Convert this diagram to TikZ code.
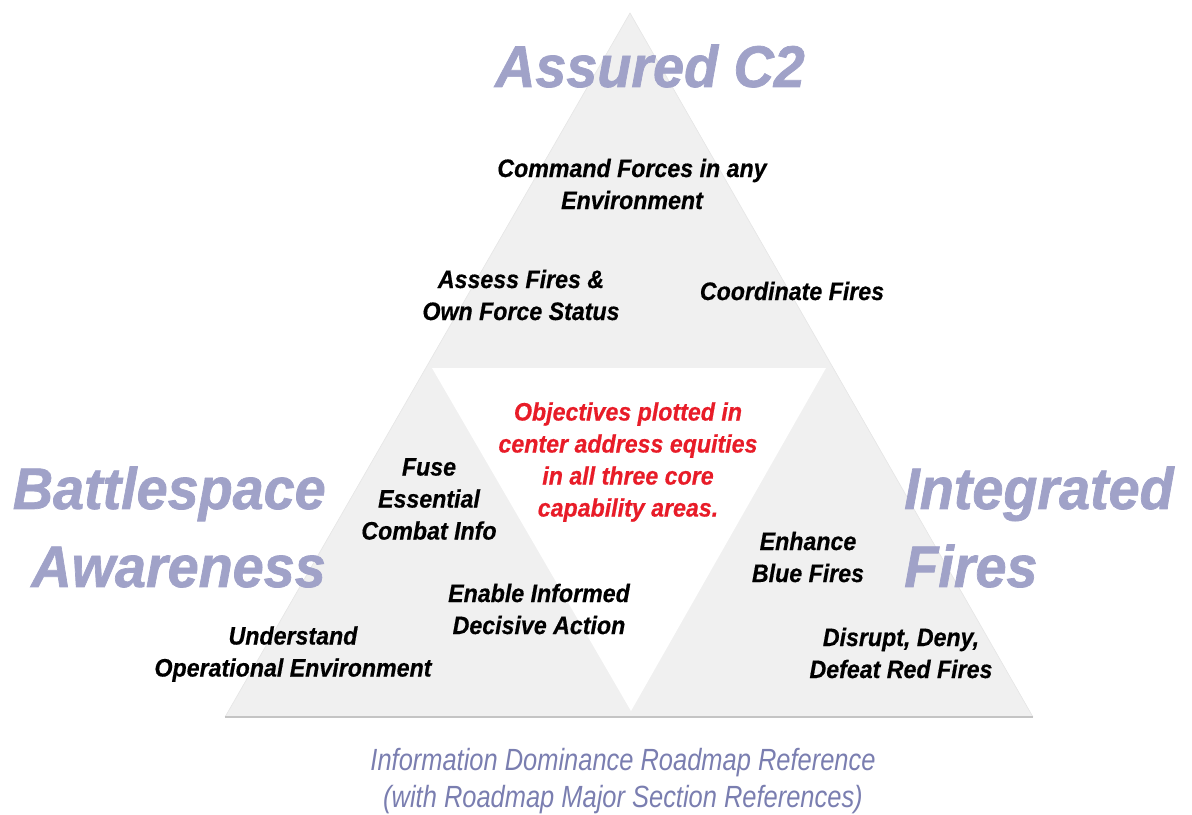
\documentclass[tikz,border=0pt]{standalone}
\usepackage{fontspec}
\setmainfont{Liberation Sans}
\newfontfamily\titlefont{Liberation Sans}[FakeStretch=0.95,FakeBold=1.2]
\newfontfamily\itemfont{Liberation Sans}[FakeStretch=0.92,FakeBold=0.5]
\newfontfamily\notefont{Liberation Sans}[FakeStretch=0.83]

\begin{document}
\begin{tikzpicture}[x=0.75pt,y=0.75pt,yscale=-1,xscale=1,
  areatitle/.style={text={rgb, 255:red, 160; green, 162; blue, 200}, inner sep=0pt,
    font=\titlefont\bfseries\itshape\fontsize{44}{58.5}\selectfont},
  goal/.style={inner sep=0pt, align=center,
    font=\itemfont\bfseries\itshape\fontsize{18.9}{24}\selectfont},
  redgoal/.style={goal, text={rgb, 255:red, 232; green, 28; blue, 40}},
  caption/.style={text={rgb, 255:red, 122; green, 126; blue, 176}, inner sep=0pt, align=center,
    font=\notefont\itshape\fontsize{23}{28}\selectfont}]
%set diagram left start at 0, and has height of 814
\useasboundingbox (0,0) rectangle (1192,814);

%Shape: Triangle [id:outer]
\coordinate (apex) at (630,13);
\coordinate (baseL) at (225,717);
\coordinate (baseR) at (1033,717);
\fill [color={rgb, 255:red, 240; green, 240; blue, 240 }] (apex) -- (baseL) -- (baseR) -- cycle ;
\draw [color={rgb, 255:red, 230; green, 230; blue, 230 }, line width=0.5] (baseL) -- (apex) -- (baseR) ;
%Shape: Triangle [id:center]
\coordinate (midL) at (432,368);
\coordinate (midR) at (826,368);
\coordinate (midB) at (631,711);
\fill [color=white] (midL) -- (midR) -- (midB) -- cycle ;
%Straight Lines [id:base]
\draw [color={rgb, 255:red, 196; green, 196; blue, 196 }, line width=1.2] (baseL) -- (baseR) ;

% Text Node
\draw (650,66) node [areatitle] (c2) {Assured C2};
% Text Node
\draw (326,527) node [areatitle, anchor=east, align=right] (awareness) {Battlespace\\Awareness};
% Text Node
\draw (904,527) node [areatitle, anchor=west, align=left] (fires) {Integrated\\Fires};

% Text Node
\draw (632,184) node [goal] (command) {Command Forces in any\\Environment};
% Text Node
\draw (521,295) node [goal] (assess) {Assess Fires \&\\Own Force Status};
% Text Node
\draw (792,291) node [goal] (coordinate) {Coordinate Fires};
% Text Node
\draw (429,499) node [goal] (fuse) {Fuse\\Essential\\Combat Info};
% Text Node
\draw (539,609) node [goal] (enable) {Enable Informed\\Decisive Action};
% Text Node
\draw (293,654) node [goal] (understand) {Understand\\Operational Environment};
% Text Node
\draw (808,557) node [goal] (enhance) {Enhance\\Blue Fires};
% Text Node
\draw (901,653) node [goal] (disrupt) {Disrupt, Deny,\\Defeat Red Fires};

% Text Node
\draw (628,462) node [redgoal] (objectives) {Objectives plotted in\\center address equities\\in all three core\\capability areas.};

% Text Node
\draw (623,781) node [caption] (roadmap) {Information Dominance Roadmap Reference\\(with Roadmap Major Section References)};

\end{tikzpicture}
\end{document}
